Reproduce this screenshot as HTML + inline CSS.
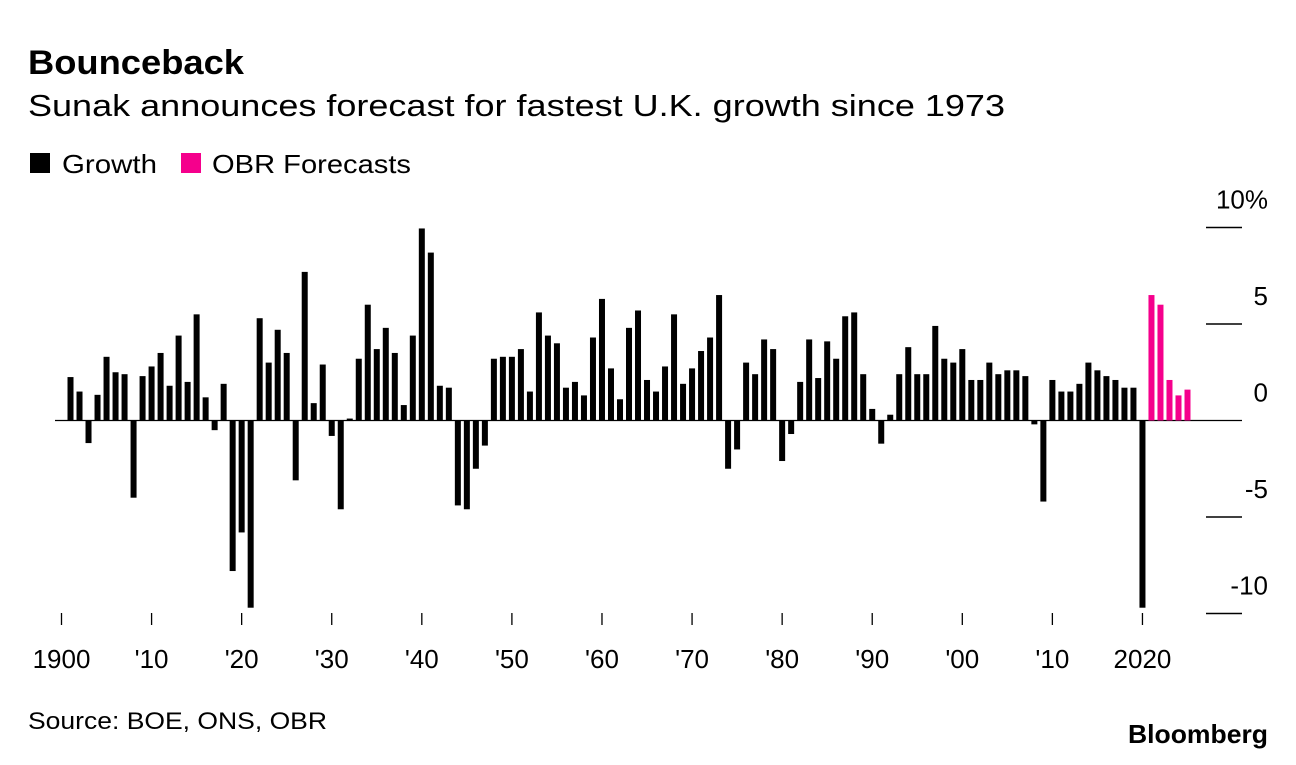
<!DOCTYPE html>
<html><head><meta charset="utf-8">
<style>
body{margin:0;background:#fff;}
svg text{font-family:"Liberation Sans",sans-serif;fill:#000;}
</style></head>
<body>
<svg id="chart" width="1296" height="760" viewBox="0 0 1296 760" xmlns="http://www.w3.org/2000/svg">
<text x="28" y="74" font-size="34" font-weight="bold" textLength="216" lengthAdjust="spacingAndGlyphs">Bounceback</text>
<text x="28" y="116" font-size="31" textLength="977" lengthAdjust="spacingAndGlyphs">Sunak announces forecast for fastest U.K. growth since 1973</text>
<g>
<rect x="30" y="153" width="20" height="20" fill="#000"/>
<text x="62" y="173" font-size="26" textLength="95" lengthAdjust="spacingAndGlyphs">Growth</text>
<rect x="181" y="153" width="20" height="20" fill="#f5008c"/>
<text x="212" y="173" font-size="26" textLength="199" lengthAdjust="spacingAndGlyphs">OBR Forecasts</text>
</g>
<g id="grid"></g>
<g id="bars"></g>
<g id="xaxis"></g>
<text x="28" y="729" font-size="24" textLength="299" lengthAdjust="spacingAndGlyphs">Source: BOE, ONS, OBR</text>
<text x="1268" y="743" font-size="26" font-weight="bold" text-anchor="end" textLength="140" lengthAdjust="spacingAndGlyphs">Bloomberg</text>
</svg>
<script>
const startYear = 1901;
const growth = [2.25,1.5,-1.17,1.33,3.3,2.5,2.4,-4.0,2.3,2.8,
3.5,1.8,4.4,2.0,5.5,1.2,-0.5,1.9,-7.8,-5.8,
-9.7,5.3,3.0,4.7,3.5,-3.1,7.7,0.9,2.9,-0.8,
-4.6,0.1,3.2,6.0,3.7,4.8,3.5,0.8,4.4,9.95,
8.7,1.8,1.7,-4.4,-4.6,-2.5,-1.3,3.2,3.3,3.3,
3.7,1.5,5.6,4.4,4.0,1.7,2.0,1.3,4.3,6.3,
2.7,1.1,4.8,5.7,2.1,1.5,2.8,5.5,1.9,2.7,
3.6,4.3,6.5,-2.5,-1.5,3.0,2.4,4.2,3.7,-2.1,
-0.7,2.0,4.2,2.2,4.1,3.2,5.4,5.6,2.4,0.6,
-1.2,0.3,2.4,3.8,2.4,2.4,4.9,3.2,3.0,3.7,
2.1,2.1,3.0,2.4,2.6,2.6,2.3,-0.2,-4.2,2.1,
1.5,1.5,1.9,3.0,2.6,2.3,2.1,1.7,1.7,-9.7];
const forecastStart = 2021;
const forecast = [6.5,6.0,2.1,1.3,1.6];
const yTicks = [10,5,0,-5,-10];
const yTickLabels = ["10%","5","0","-5","-10"];
const xTicks = [1900,1910,1920,1930,1940,1950,1960,1970,1980,1990,2000,2010,2020];
const xTickLabels = ["1900","'10","'20","'30","'40","'50","'60","'70","'80","'90","'00","'10","2020"];

const NS="http://www.w3.org/2000/svg";
const y0=420.5, pxPer=19.3;
function yS(v){return y0 - v*pxPer;}
function xS(yr){return 61.5 + (yr-1900)*9.008;}
const bw=6;
const grid=document.getElementById('grid');
const bars=document.getElementById('bars');
const xa=document.getElementById('xaxis');
function mk(t,a){const e=document.createElementNS(NS,t);for(const k in a)e.setAttribute(k,a[k]);return e;}

yTicks.forEach((v,i)=>{
  const l=mk('line',{x1:v===0?55:1206,x2:1242,y1:yS(v),y2:yS(v),stroke:'#000','stroke-width':v===0?1.3:1.5});
  
  
  grid.appendChild(l);
  const t=mk('text',{x:1268,y:yS(v)-19,'font-size':26,'text-anchor':'end'});
  t.textContent=yTickLabels[i];
  
  
  grid.appendChild(t);
});
function bar(yr,v,col){
  const top=Math.min(yS(v),yS(0)), h=Math.abs(yS(v)-yS(0));
  const r=mk('rect',{x:xS(yr)-bw/2,y:top,width:bw,height:Math.max(h,1),fill:col});
  
  
  bars.appendChild(r);
}
growth.forEach((v,i)=>bar(startYear+i,v,'#000'));
forecast.forEach((v,i)=>bar(forecastStart+i,v,'#f5008c'));
xTicks.forEach((yr,i)=>{
  const l=mk('line',{x1:xS(yr),x2:xS(yr),y1:613,y2:625,stroke:'#000','stroke-width':1.3});
  
  
  xa.appendChild(l);
  const t=mk('text',{x:xS(yr),y:668,'font-size':26,'text-anchor':'middle'});
  t.textContent=xTickLabels[i];
  
  
  xa.appendChild(t);
});
</script>
</body></html>
